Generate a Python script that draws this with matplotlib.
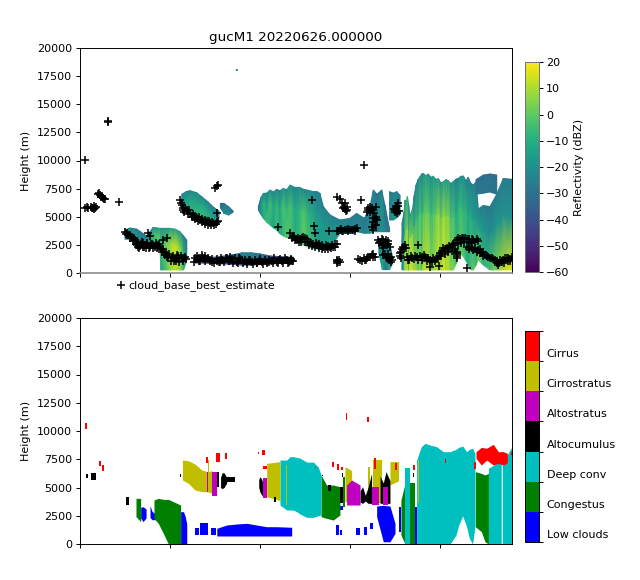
import numpy as np
import matplotlib
matplotlib.use('Agg')
import matplotlib.pyplot as plt
from matplotlib.colors import ListedColormap, BoundaryNorm, Normalize
from matplotlib.cm import ScalarMappable

plt.rcParams.update({'font.size': 8, 'axes.linewidth': 0.7,
                     'xtick.major.size': 2.8, 'ytick.major.size': 2.8,
                     'xtick.major.width': 0.7, 'ytick.major.width': 0.7,
                     'axes.labelpad': 4.5, 'xtick.major.pad': 2.8, 'ytick.major.pad': 2.8})

# cloud base (hours, metres)
base_time = [0.28, 1.55, 1.58,
    0.3, 0.4, 0.45, 0.6, 0.65, 0.7, 0.75, 0.8, 0.85, 0.9,
    1.0, 1.05, 1.1, 1.15, 1.2, 1.3, 1.35, 1.4, 2.17,
    2.5, 2.69, 2.87, 3.06, 3.24, 3.24, 3.43, 3.61, 3.8, 3.89, 3.89, 4.07, 4.26, 4.44, 4.63, 4.81,
    4.54, 4.72, 4.91, 5.09, 5.28, 5.37, 5.46, 5.65, 5.83, 3.15, 3.35, 3.5, 3.7, 4.0, 4.35,
    5.56, 5.65, 5.74, 5.93, 6.11, 6.3, 6.48, 6.67, 6.85, 7.04, 7.22, 7.41, 7.59, 7.6, 7.59, 7.69, 7.5,
    6.39, 6.57, 6.76, 6.94, 7.13, 7.31, 7.59, 7.87, 8.15, 8.43, 8.7, 9.0, 9.28, 9.56, 9.81, 10.09, 10.37, 10.65, 10.93, 11.2, 11.48, 11.76,
    6.6, 6.9, 7.2, 7.75, 8.3, 8.9, 9.4, 9.95, 10.5, 11.05, 11.6,
    11.02, 11.67, 11.85, 12.04, 12.22, 12.41, 12.59, 12.78, 12.96, 13.15, 13.33, 13.52, 13.7, 13.89, 14.07, 14.26,
    11.67, 11.72,
    12.91, 12.99, 13.03, 13.85, 14.26, 14.44, 14.63, 14.81, 15.0, 15.18, 15.37,
    14.26, 14.44, 14.72, 14.63, 14.81, 15.59, 15.8,
    16.02, 16.2, 16.11, 16.44, 16.44, 16.3, 16.52, 16.39, 16.3,
    14.35, 14.26, 14.44, 15.46, 15.83, 16.02, 16.2, 16.39,
    16.57, 16.85, 17.13, 16.76, 17.04, 16.85, 17.13, 17.22, 17.31,
    17.56, 17.69, 17.5, 17.59, 17.78, 17.96, 18.06,
    18.15, 18.43, 18.7, 18.8, 18.98, 19.17, 19.35, 19.44, 19.63, 19.81, 19.93, 20.0, 20.19, 20.37, 20.56, 20.74,
    20.93, 21.11, 21.3, 21.48, 21.76, 22.04, 20.93, 20.93, 21.48,
    21.76, 21.94, 22.13, 22.3, 22.5, 22.69, 22.87, 23.06, 23.24, 23.43, 23.61, 23.8, 23.98]
base_height = [10050, 13500, 13450,
    5800, 5850, 5800, 5900, 5750, 5800, 5650, 6000, 5800, 5850,
    7000, 7150, 6900, 6800, 6750, 6700, 6550, 6600, 6280,
    3670, 3380, 3170, 2930, 2640, 2280, 2790, 2490, 3530, 3290, 2340, 2490, 2490, 2340, 2930, 3080,
    1900, 1600, 1450, 1300, 1210, 1600, 1300, 1300, 1390, 2500, 2400, 2350, 2650, 2600, 2300,
    6490, 6040, 5750, 5600, 5300, 5010, 4860, 4710, 4650, 4650, 4470, 4410, 4560, 5300, 7700, 7820, 7530,
    1300, 1270, 1450, 1510, 1300, 1010, 1100, 1160, 1300, 1210, 1010, 1160, 1010, 1010, 920, 1010, 1010, 1100, 1010, 1100, 1160, 1100,
    1100, 1250, 1150, 1000, 1050, 1250, 1150, 1100, 950, 1150, 1000,
    4120, 3530, 3170, 2930, 2990, 3230, 2990, 2700, 2580, 2490, 2400, 2340, 2280, 2280, 2340, 2550,
    1100, 1160,
    6490, 4180, 3530, 3730, 3730, 3820, 3730, 3820, 3820, 3820, 3970,
    6790, 6550, 6190, 5750, 5600, 6490, 9570,
    5600, 5600, 5840, 5900, 5010, 4560, 4710, 4270, 3820,
    1010, 1100, 1010, 1210, 1160, 1450, 1600, 1450,
    2930, 2930, 2870, 2490, 2490, 1600, 1450, 1300, 1160,
    5750, 6250, 5450, 5300, 1750, 2340, 2490,
    1450, 1300, 1390, 2490, 1450, 1450, 1300, 560, 1300, 1390, 620, 1750, 2190, 2190, 2340, 2490,
    2930, 2990, 3080, 2990, 2990, 2990, 1750, 1300, 410,
    2190, 2190, 2040, 1750, 1600, 1450, 1300, 1160, 710, 1010, 1300, 1300, 1390]

# more retrievals inside the dense runs
extra_time = [6.35, 6.5, 6.65, 6.8, 6.95, 7.05, 7.2, 7.35, 7.45, 7.6, 7.7, 7.85, 8.0, 8.1, 8.25, 8.35, 8.5, 8.6, 8.75, 8.85,
    9.05, 9.15, 9.3, 9.45, 9.6, 9.7, 9.85, 10.0, 10.15, 10.25, 10.4, 10.5, 10.7, 10.8, 11.0, 11.1, 11.3, 11.4, 11.55, 11.7, 11.85,
    2.55, 2.62, 2.75, 2.8, 2.95, 3.0, 3.1, 3.18, 3.3, 3.4, 3.5, 3.55, 3.65, 3.72, 3.85, 3.95, 4.05, 4.15, 4.2, 4.3, 4.4, 4.5, 4.6,
    4.68, 4.78, 4.85, 4.97, 5.03, 5.15, 5.2, 5.33, 5.42, 5.5, 5.6, 5.7, 5.78, 5.9,
    5.6, 5.7, 5.8, 5.85, 6.0, 6.05, 6.2, 6.25, 6.4, 6.4, 6.55, 6.6, 6.75, 6.8, 6.95, 6.95, 7.1, 7.15, 7.3, 7.35, 7.45, 7.55, 7.65,
    11.75, 11.9, 11.95, 12.1, 12.15, 12.3, 12.35, 12.5, 12.5, 12.65, 12.7, 12.85, 12.9, 13.05, 13.1, 13.25, 13.3, 13.45, 13.45,
    13.6, 13.65, 13.8, 13.8, 13.95, 14.0, 14.15, 14.15,
    14.35, 14.5, 14.55, 14.7, 14.9, 14.9, 15.1, 15.25, 15.3,
    14.65, 14.75, 14.85, 14.55, 14.7, 16.0, 16.1, 16.2, 16.15, 15.95, 16.35, 16.45, 16.3, 16.45, 16.2,
    17.5, 17.6, 17.55, 17.65, 17.7, 17.45,
    16.65, 16.75, 16.9, 17.0, 17.1, 16.6, 16.85, 16.95, 17.2, 17.05, 17.15, 17.3, 17.25, 16.95, 17.1,
    17.85, 17.9, 18.0, 17.75, 17.85, 18.1,
    15.55, 15.65, 15.75, 15.9, 15.95, 16.1, 16.25, 16.3, 14.3, 14.4, 14.3,
    18.2, 18.3, 18.4, 18.55, 18.6, 18.8, 18.9, 19.0, 19.1, 19.25, 19.3, 19.45, 19.55, 19.7, 19.85, 19.95, 20.05, 20.1, 20.25, 20.3,
    20.45, 20.5, 20.65, 20.7, 20.85, 20.85, 21.0, 21.0, 21.15, 21.2, 21.35, 21.4, 21.6, 21.6, 21.7, 21.85, 21.95, 22.1,
    21.5, 21.6, 21.85, 22.05, 22.2, 22.2, 22.4, 22.4, 22.6, 22.75, 22.95, 23.15, 23.15, 23.3, 23.35, 23.5, 23.55, 23.7, 23.75, 23.9, 23.9,
    20.93, 20.93, 20.93]
extra_height = [1000, 1500, 1100, 1600, 1100, 1250, 1050, 1250, 900, 1250, 950, 1350, 1000, 1300, 1050, 1450, 900, 1350, 850, 1300,
    850, 1200, 800, 1200, 800, 1200, 850, 1250, 800, 1200, 850, 1200, 850, 1300, 850, 1250, 900, 1300, 900, 1250, 1050,
    3500, 3550, 3150, 3350, 2850, 3150, 2550, 2800, 2250, 2600, 2700, 2300, 2250, 2650, 2200, 2600, 2250, 2300, 2650, 2200, 2550, 2150, 2150,
    1850, 1750, 1450, 1700, 1100, 1500, 1050, 1050, 1500, 1000, 1500, 1050, 1350, 1250,
    6250, 5600, 5450, 5800, 5250, 5600, 4950, 5250, 4800, 5100, 4600, 4950, 4500, 4800, 4400, 4750, 4300, 4650, 4250, 4550, 4250, 4400, 4600,
    3100, 3300, 2900, 3150, 2800, 2800, 3150, 2800, 3150, 2800, 2500, 2700, 2400, 2300, 2650, 2250, 2600, 2150, 2500,
    2150, 2450, 2150, 2400, 2200, 2450, 2300, 2600,
    3700, 3900, 3700, 3850, 3750, 3950, 3800, 3950, 3700,
    5900, 5500, 5900, 6200, 5650, 5800, 5400, 5800, 5650, 5400, 5300, 4800, 4900, 4300, 4100,
    5600, 5500, 6000, 5950, 5500, 5700,
    2800, 3000, 2700, 2950, 2600, 2650, 2250, 2600, 2300, 1350, 1200, 1400, 1000, 1700, 1650,
    1900, 2100, 2200, 1500, 1300, 2200,
    1200, 1050, 1300, 1150, 1350, 1400, 1700, 1450, 850, 1200, 1200,
    1200, 1150, 1500, 1250, 1500, 1150, 1500, 1200, 1600, 1350, 1050, 1200, 1000, 1100, 1250, 1500, 1500, 1950, 1700, 2100,
    1900, 2400, 2000, 2600, 2100, 2700, 2600, 3100, 2650, 3150, 2800, 3100, 2800, 3050, 2700, 2950, 2750, 2850,
    2300, 2100, 2050, 1900, 1800, 2100, 1550, 1850, 1550, 1350, 1250, 1050, 850, 900, 1150, 1150, 850, 1300, 1050, 1250, 1050,
    1500, 1900, 1650]

# reflectivity: column time, cloud base/top (m), dBZ low, mid and high in the cloud
a_time = [2.5, 2.78, 3.15, 3.33, 3.7, 4.07, 4.44, 4.5, 5.0, 5.3, 5.55, 5.75, 5.93]
a_base = [3000, 3000, 2900, 2700, 2500, 2400, 2200, 270, 270, 270, 270, 270, 1100]
a_top = [3820, 4000, 3900, 3700, 3300, 4060, 3970, 3970, 3970, 3900, 3670, 3300, 2930]
a_low = [-22, -20, -22, -25, -20, -10, -5, -15, 5, 12, 8, -5, -25]
a_mid = [-22, -15, -20, -25, -25, -5, 0, -5, 8, 14, 5, -10, -30]
a_high = [-26, -24, -26, -28, -28, -20, -17, -20, -15, -15, -20, -24, -30]

b_time = [5.65, 5.9, 6.11, 6.48, 6.76, 7.1, 7.45, 7.72]
b_base = [5900, 5500, 5150, 4800, 4650, 4300, 4270, 4900]
b_top = [7000, 7230, 7320, 7140, 6780, 6340, 5800, 5500]
b_low = [-25, -15, -8, -6, -5, -7, -12, -25]
b_mid = [-20, -15, -12, -12, -10, -12, -18, -28]
b_high = [-24, -25, -24, -22, -24, -25, -26, -30]

b2_time = [7.8, 8.0, 8.25, 8.5]
b2_base = [5800, 5300, 5150, 5400]
b2_top = [6190, 6190, 5900, 5500]
b2_low = [-30, -22, -20, -30]
b2_mid = [-32, -25, -22, -32]
b2_high = [-35, -30, -28, -35]

c_time = [6.4, 7.5, 8.6, 9.0, 9.5, 10.0, 10.6, 11.85]
c_base = [900, 850, 750, 700, 700, 750, 800, 900]
c_top = [1400, 1400, 1650, 1800, 1800, 1700, 1500, 1400]
c_low = [-45, -45, -45, -42, -42, -45, -45, -45]
c_mid = [-35, -35, -30, -28, -25, -30, -35, -35]
c_high = [-40, -40, -30, -26, -26, -30, -40, -40]

d_time = [9.91, 10.05, 10.19, 10.38, 10.56, 10.75, 10.93, 11.1, 11.3, 11.48, 11.67, 11.95, 12.2, 12.41, 12.7, 12.96, 13.15, 13.33, 13.52, 13.89, 14.44, 15.0, 15.37, 15.8, 16.11, 16.3, 16.5, 16.76, 16.94, 17.2]
d_base = [5600, 5200, 4860, 4500, 4270, 4000, 3820, 3500, 3290, 3150, 3080, 2850, 2640, 2490, 2300, 2190, 2150, 2100, 2040, 2190, 3530, 3590, 3670, 3530, 3530, 3670, 3670, 3670, 3670, 3670]
d_top = [5900, 6700, 7080, 7100, 7380, 7200, 7440, 7300, 7530, 7400, 7820, 7600, 7620, 7440, 7350, 7230, 7250, 7080, 5900, 5160, 4710, 4860, 5300, 4860, 5900, 7380, 7000, 7380, 6040, 3820]
d_low = [-30, -20, -12, -4, -8, -14, -5, -12, -8, 0, -4, -10, -6, 2, -3, -8, -14, -15, -15, -12, -18, -20, -20, -25, -18, -20, -26, -20, -25, -30]
d_mid = [-28, -18, -8, -14, -4, -12, -6, -12, -2, -8, -3, -12, -8, -2, -10, -12, -18, -18, -18, -20, -22, -25, -25, -28, -25, -22, -26, -18, -28, -30]
d_high = [-28, -24, -22, -24, -20, -24, -22, -24, -18, -22, -20, -24, -20, -24, -22, -24, -26, -26, -26, -24, -26, -26, -26, -26, -26, -28, -30, -26, -28, -30]

e_time = [17.2, 17.4, 17.6, 17.78]
e_base = [4710, 4710, 4900, 5200]
e_top = [7230, 7100, 7230, 6900]
e_low = [-25, -18, -20, -30]
e_mid = [-28, -20, -22, -28]
e_high = [-28, -26, -24, -30]

low_time = [16.6, 16.8, 17.0, 17.2, 17.35]
low_base = [1800, 300, 300, 300, 800]
low_top = [2900, 2900, 2900, 2700, 1500]
low_low = [-25, -12, -30, -10, -25]
low_mid = [-22, -15, -25, -15, -25]
low_high = [-25, -25, -28, -25, -28]

f_time = [17.89, 18.0, 18.06, 18.13, 18.19, 18.26, 18.33, 18.41, 18.48, 18.56, 18.67, 18.78, 18.89, 18.98, 19.07, 19.2, 19.35, 19.5, 19.63, 19.77, 19.91, 20.05, 20.19, 20.33, 20.46, 20.6, 20.74, 20.89, 21.02, 21.16, 21.3, 21.44, 21.57, 21.7, 21.85, 22.0, 22.13]
f_base = [300, 270, 270, 270, 270, 270, 270, 270, 270, 270, 270, 270, 270, 270, 270, 270, 270, 270, 270, 270, 270, 270, 270, 270, 270, 270, 270, 800, 1450, 1700, 1450, 1100, 710, 300, 270, 700, 1150]
f_top = [4410, 5400, 6490, 6300, 6790, 6000, 5010, 5400, 5750, 6800, 7820, 8300, 8560, 8800, 8860, 8650, 8800, 8500, 8620, 8300, 8410, 8000, 8120, 8300, 8210, 7950, 8120, 8350, 8410, 8600, 8620, 8200, 8500, 8000, 7820, 8100, 5700]
f_low = [-25, -10, 15, 8, 18, -5, 18, 16, 17, 12, 10, 2, 8, -3, 15, 10, 16, 4, 8, 10, 14, 8, 17, 10, 12, 4, 6, -4, -5, 2, 0, -8, -10, -4, 2, -6, 5]
f_mid = [-25, -15, 0, 5, 5, -8, 10, 4, 5, -10, -5, -10, 0, -8, -5, 2, 0, -6, -3, 2, 8, 0, 10, 4, 6, -4, -2, -12, -8, -5, -10, -6, -15, -10, -15, -20, -12]
f_high = [-28, -24, -20, -14, -16, -26, -16, -20, -20, -28, -25, -24, -20, -26, -20, -16, -18, -22, -16, -20, -16, -22, -14, -18, -16, -22, -20, -26, -25, -20, -20, -26, -25, -28, -24, -26, -26]

f2_time = [22.13, 22.41, 22.78, 23.15, 23.52, 24.0]
f2_base = [1150, 710, 270, 270, 270, 270]
f2_top = [5700, 6000, 5900, 7000, 8410, 8330]
f2_low = [5, -8, -3, 5, 12, 17]
f2_mid = [-12, -18, -22, -18, -20, -20]
f2_high = [-26, -26, -28, -26, -26, -26]

f3_time = [22.0, 22.41, 22.78, 23.15]
f3_base = [7000, 7100, 7200, 7000]
f3_top = [8300, 8710, 8800, 8710]
f3_low = [-30, -28, -30, -30]
f3_mid = [-28, -30, -28, -30]
f3_high = [-32, -32, -32, -32]

speck_time = [8.68, 8.74]
speck_base = [18000, 18000]
speck_top = [18070, 18070]
speck_dbz = [-20, -20]

cloud_regions = [
    (a_time, a_base, a_top, a_low, a_mid, a_high),
    (b_time, b_base, b_top, b_low, b_mid, b_high),
    (b2_time, b2_base, b2_top, b2_low, b2_mid, b2_high),
    (c_time, c_base, c_top, c_low, c_mid, c_high),
    (d_time, d_base, d_top, d_low, d_mid, d_high),
    (e_time, e_base, e_top, e_low, e_mid, e_high),
    (low_time, low_base, low_top, low_low, low_mid, low_high),
    (f_time, f_base, f_top, f_low, f_mid, f_high),
    (f2_time, f2_base, f2_top, f2_low, f2_mid, f2_high),
    (f3_time, f3_base, f3_top, f3_low, f3_mid, f3_high),
    (speck_time, speck_base, speck_top, speck_dbz, speck_dbz, speck_dbz),
]

# classification patches: (times, base, top)
low_clouds = [
    ([3.37, 3.5, 3.67], [2300, 1980, 2300], [3240, 3300, 3100]),
    ([3.89, 4.0, 4.22], [2350, 2150, 2150], [3400, 2900, 2600]),
    ([5.59, 5.75, 5.85, 5.93], [0, 0, 0, 0], [2860, 2860, 2400, 1800]),
    ([6.39, 6.63], [800, 800], [1390, 1390]),
    ([6.67, 7.13], [800, 800], [1830, 1830]),
    ([7.28, 7.56], [800, 800], [1390, 1390]),
    ([7.6, 8.15, 8.7, 9.26, 9.81, 10.37, 10.93, 11.76], [710, 710, 710, 710, 710, 710, 710, 710], [1390, 1680, 1770, 1830, 1680, 1530, 1530, 1480]),
    ([14.2, 14.39], [800, 800], [1680, 1680]),
    ([14.44, 14.57], [800, 800], [1240, 1240]),
    ([15.33, 15.56], [800, 800], [1390, 1390]),
    ([15.78, 15.96], [800, 800], [1530, 1530]),
    ([16.11, 16.26], [1300, 1300], [1890, 1890]),
    ([14.44, 14.59], [3010, 3010], [3360, 3360]),
    ([16.48, 16.85, 17.22, 17.5], [2430, 200, 200, 940], [3360, 3420, 3360, 1830]),
    ([17.72, 17.83], [1090, 1090], [3300, 3300]),
    ([18.59, 18.74], [0, 0], [3300, 3300]),
]
congestus = [
    ([3.11, 3.37], [2420, 1980], [4040, 4040]),
    ([4.11, 4.35, 4.63, 4.91, 5.59], [2270, 1830, 940, 0, 0], [3890, 4040, 3950, 3950, 3450]),
    ([13.39, 13.7, 14.07, 14.44], [2420, 2270, 2120, 2570], [6110, 5220, 5220, 5070]),
    ([14.59, 14.72], [3300, 3300], [5960, 5960]),
    ([17.83, 18.06], [800, 0], [3890, 5370]),
    ([18.33, 18.59], [0, 0], [5370, 5370]),
    ([21.96, 22.3, 22.5, 22.69], [1530, 1090, 200, 0], [6400, 6250, 6110, 6250]),
]
deep_conv = [
    ([11.11, 11.48, 11.67, 11.85, 12.04, 12.22, 12.59, 12.96, 13.24, 13.39],
     [3450, 3010, 3010, 3000, 2860, 2655, 2360, 2360, 2500, 2570],
     [7430, 7430, 7730, 7730, 7670, 7600, 7250, 7250, 6810, 6110]),
    ([18.06, 18.33], [0, 0], [6700, 6700]),
    ([18.7, 18.96, 19.17, 19.44, 19.81, 20.19, 20.56, 20.89, 21.04, 21.26, 21.48, 21.63, 21.81, 21.94],
     [0, 0, 0, 0, 0, 0, 0, 800, 1680, 2480, 1530, 500, 0, 1530],
     [7430, 8610, 8910, 8760, 8610, 8170, 8170, 8380, 8550, 8670, 8170, 8380, 8470, 8020]),
    ([22.69, 23.15, 23.4], [0, 0, 0], [6700, 7140, 7250]),
    ([23.46, 23.52, 24.0], [0, 0, 0], [7290, 7290, 8610]),
]
cirrostratus = [
    ([5.69, 6.02, 6.39, 6.76, 7.09, 7.35], [5660, 5370, 4780, 4630, 4630, 4480], [7430, 7370, 7080, 6550, 6400, 6490]),
    ([7.11, 7.15], [4630, 4630], [7430, 7430]),
    ([10.37, 11.11], [4190, 3840], [7140, 7290]),
    ([11.44, 11.52], [3450, 3450], [6990, 6990]),
    ([14.72, 15.09], [3750, 3750], [6840, 6500]),
    ([16.0, 16.11], [3750, 3750], [6840, 6840]),
    ([16.3, 16.76], [3600, 3600], [7430, 7430]),
    ([17.22, 17.7], [5220, 5600], [7290, 7290]),
    ([18.76, 18.83], [3600, 3600], [7430, 7430]),
]
altocumulus = [
    ([0.33, 0.46], [5870, 5870], [6195, 6195]),
    ([0.6, 0.89], [5660, 5660], [6310, 6310]),
    ([2.56, 2.72], [3480, 3480], [4130, 4130]),
    ([5.58, 5.63], [5900, 5900], [6200, 6200]),
    ([7.63, 7.7], [5070, 5070], [6370, 6370]),
    ([7.81, 7.9, 8.0, 8.15], [5000, 4900, 5000, 5400], [5900, 6310, 6300, 5900]),
    ([8.15, 8.61], [5520, 5520], [5900, 5900]),
    ([9.93, 10.0, 10.1, 10.22], [5000, 4600, 4310, 4300], [5700, 5960, 5700, 5000]),
    ([10.8, 10.87], [3750, 3750], [4130, 4130]),
    ([13.43, 13.52], [6000, 6000], [6110, 6110]),
    ([13.8, 13.93], [4720, 4720], [5220, 5220]),
    ([14.44, 14.59], [3600, 3600], [5070, 5070]),
    ([14.55, 14.63], [5960, 5960], [6310, 6310]),
    ([15.56, 15.7, 15.85, 16.0, 16.2], [3700, 3600, 3800, 3600, 3600], [4700, 5070, 4300, 5000, 6250]),
    ([16.67, 16.85, 17.0, 17.22], [3600, 3600, 3600, 3600], [6000, 5400, 6400, 5600]),
    ([18.48, 18.56], [5960, 5960], [6250, 6250]),
]
altostratus = [
    ([7.06, 7.09], [4630, 4630], [6370, 6370]),
    ([7.35, 7.59], [4250, 4250], [6400, 6400]),
    ([10.19, 10.37], [4040, 4040], [5810, 5810]),
    ([14.81, 15.09, 15.56], [3450, 3450, 3450], [5220, 5660, 5220]),
    ([16.2, 16.63], [3450, 3450], [5070, 5070]),
    ([16.85, 17.13], [3450, 3450], [5070, 5070]),
]
cirrus = [
    ([0.3, 0.37], [10200, 10200], [10740, 10740]),
    ([1.04, 1.15], [6900, 6900], [7375, 7375]),
    ([1.22, 1.35], [6490, 6490], [6990, 6990]),
    ([7.0, 7.1], [7140, 7140], [7670, 7670]),
    ([7.54, 7.76], [7290, 7290], [8080, 8080]),
    ([8.06, 8.17], [7490, 7490], [8020, 8020]),
    ([9.87, 9.94], [7965, 7965], [8140, 8140]),
    ([10.1, 10.28], [7880, 7880], [8320, 8320]),
    ([10.15, 10.4], [6610, 6610], [6930, 6930]),
    ([13.05, 13.1], [6700, 6700], [6850, 6850]),
    ([13.98, 14.11], [6790, 6790], [7290, 7290]),
    ([14.26, 14.37], [6550, 6550], [7080, 7080]),
    ([14.5, 14.59], [6550, 6550], [6840, 6840]),
    ([14.76, 14.85], [10970, 10970], [11620, 11620]),
    ([15.94, 16.06], [10830, 10830], [11270, 11270]),
    ([16.33, 16.44], [6610, 6610], [7580, 7580]),
    ([17.52, 17.63], [6550, 6550], [7140, 7140]),
    ([18.52, 18.61], [6550, 6550], [6990, 6990]),
    ([20.28, 20.35], [7140, 7140], [7550, 7550]),
    ([21.91, 21.98], [6610, 6610], [7290, 7290]),
    ([22.0, 22.3, 22.59, 22.96, 23.24, 23.52, 23.74], [7580, 6990, 7430, 6990, 7140, 6990, 7200], [8170, 8550, 8470, 8820, 8170, 8170, 8020]),
    ([23.93, 24.0], [7900, 7900], [8150, 8150]),
]

class_names = ['Low clouds', 'Congestus', 'Deep conv', 'Altocumulus', 'Altostratus', 'Cirrostratus', 'Cirrus']
class_colors = ['b', 'g', 'c', 'k', 'm', 'y', 'r']
draw_order = [(low_clouds, 'b'), (congestus, 'g'), (deep_conv, 'c'), (cirrostratus, 'y'),
              (altocumulus, 'k'), (altostratus, 'm'), (cirrus, 'r')]

fig = plt.figure(figsize=(6.4, 5.8), dpi=100)
ax1 = fig.add_axes([80/640, 1-273/580, 432/640, 225/580])
ax2 = fig.add_axes([80/640, 1-544/580, 432/640, 226/580])
cax1 = fig.add_axes([525/640, 1-272/580, 13.5/640, 210/580])
cax2 = fig.add_axes([525/640, 1-542/580, 13.5/640, 211/580])

# top panel
norm = Normalize(vmin=-60, vmax=20)
for t, b, tp, lo, mi, hi in cloud_regions:
    t = np.array(t, dtype=float)
    b = np.array(b, dtype=float)
    tp = np.array(tp, dtype=float)
    X = np.vstack([t, t, t])
    Y = np.vstack([b, b+0.6*(tp-b), tp])
    C = np.vstack([lo, mi, hi])
    ax1.pcolormesh(X, Y, C, shading='gouraud', cmap='viridis', norm=norm)
ax1.scatter(base_time + extra_time, base_height + extra_height, marker='+', c='k', s=32,
            linewidths=1.1, zorder=3, label='cloud_base_best_estimate')
ax1.set_title('gucM1 20220626.000000', fontsize=9.7, pad=4.8)
ax1.spines['bottom'].set_color('0.55')
ax1.spines['bottom'].set_linewidth(1.2)
ax1.legend(loc='upper left', bbox_to_anchor=(0.082, -0.031), frameon=False, fontsize=8,
           handlelength=1, handletextpad=0.2, borderpad=0, borderaxespad=0)

# bottom panel
for patches, col in draw_order:
    for t, b, tp in patches:
        ax2.fill_between(t, b, tp, color=col, linewidth=0)

for ax in (ax1, ax2):
    ax.set_xlim(0, 24)
    ax.set_ylim(0, 20000)
    ax.set_xticks(np.arange(0, 21, 5))
    ax.set_xticklabels([])
    ax.set_yticks(np.arange(0, 20001, 2500))
    ax.set_ylabel('Height (m)')

cb1 = fig.colorbar(ScalarMappable(norm=norm, cmap='viridis'), cax=cax1)
cb1.set_ticks(np.arange(-60, 21, 10))
cb1.set_label('Reflectivity (dBZ)', labelpad=3)
cb1.outline.set_edgecolor('0.45')

cmap2 = ListedColormap(class_colors)
norm2 = BoundaryNorm(np.arange(0, 8), 7)
cb2 = fig.colorbar(ScalarMappable(norm=norm2, cmap=cmap2), cax=cax2)
cb2.set_ticks(np.arange(0, 8))
cb2.set_ticklabels([])
cb2.ax.minorticks_off()
for i, name in enumerate(class_names):
    cax2.text(1.6, i+0.23, name, transform=cax2.get_yaxis_transform(), va='center', fontsize=8)

fig.savefig('out.png', dpi=100)
